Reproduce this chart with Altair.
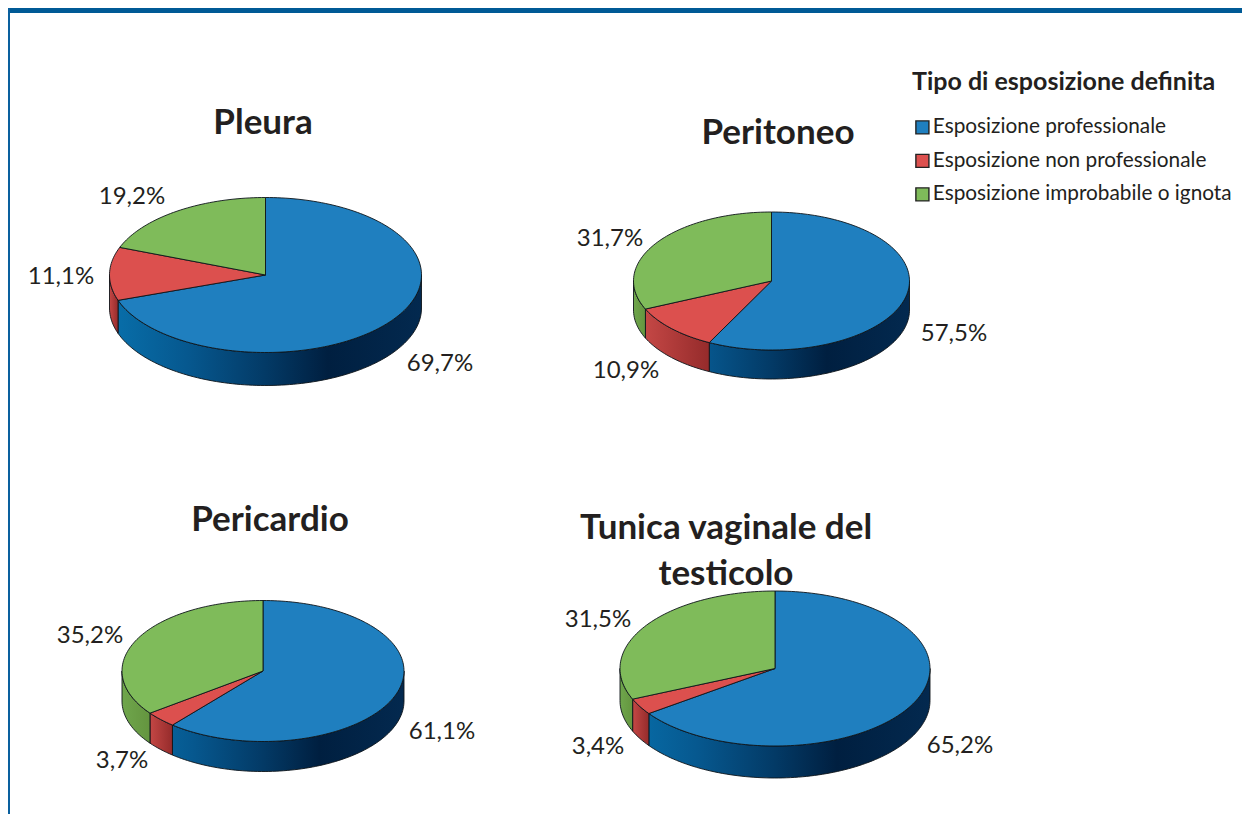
import math
import altair as alt
import pandas as pd

# ---- data
organs = ["Pleura", "Peritoneo", "Pericardio", "Tunica vaginale del testicolo"]
categories = ["Esposizione professionale", "Esposizione non professionale", "Esposizione improbabile o ignota"]
professional = [69.7, 57.5, 61.1, 65.2]
non_professional = [11.1, 10.9, 3.7, 3.4]
unlikely = [19.2, 31.7, 35.2, 31.5]

# ---- layout (chart pixels = page pixels minus the 8px margin)
M = 8
centers = [(265.5, 275), (771.5, 281), (263, 671), (775, 668.5)]
radii = [(156, 77.5), (138, 69), (141, 70.5), (155, 77.5)]
depths = [33, 29, 30, 32]
label_pos = [
    [(440, 371), (61, 284), (132, 204)],
    [(954, 341), (626, 378), (610, 246)],
    [(442, 739), (122, 768), (90, 643)],
    [(960, 753), (598, 754), (598, 627)],
]
title_pos = [("Pleura", 263, 134), ("Peritoneo", 778, 144), ("Pericardio", 270, 531),
             ("Tunica vaginale del", 726, 539), ("testicolo", 726, 585)]

TOP = ["#1f7fbf", "#dc504e", "#7fbb5a"]
# blue wall colours, anchored on position across the full pie width (-1 left .. 1 right)
BLUE_WALL = [(-1.0, "#0870ab"), (-0.5, "#06588f"), (0.0, "#033a66"), (0.4, "#001f40"), (1.0, "#03294f")]
WALL = [
    None,
    [(0, "#c44745"), (1, "#952b2b")],
    [(0, "#6fa64c"), (1, "#64953f")],
]
EDGE = "#0d141a"
FONT = "Lato"


def pt(c, r, a, dy=0):
    t = math.radians(a)
    return [c[0] - M + r[0] * math.sin(t), c[1] - M - r[1] * math.cos(t) + dy]


def arc(c, r, a1, a2, dy=0):
    n = max(2, int(abs(a2 - a1) / 1.5))
    return [pt(c, r, a1 + (a2 - a1) * i / n, dy) for i in range(n + 1)]


def feature(ring, cat):
    ring = ring + [ring[0]]
    return {"type": "Feature", "properties": {"cat": cat},
            "geometry": {"type": "Polygon", "coordinates": [ring]}}


def mix(c1, c2, f):
    a = [int(c1[k:k + 2], 16) for k in (1, 3, 5)]
    b = [int(c2[k:k + 2], 16) for k in (1, 3, 5)]
    return "#%02x%02x%02x" % tuple(round(p + (q - p) * f) for p, q in zip(a, b))


def blue_stops(u0):
    """Stops for a wall that starts at position u0 and runs to the right extreme."""
    out = []
    for (p, c1), (q, c2) in zip(BLUE_WALL, BLUE_WALL[1:]):
        if p <= u0 < q:
            out.append((0, mix(c1, c2, (u0 - p) / (q - p))))
    out += [((p - u0) / (1 - u0), c) for p, c in BLUE_WALL if p > u0]
    return out


proj = alt.Projection(type="identity", scale=1, translate=[0, 0])
layers = []
top_features = []

layers.append(alt.Chart(alt.Data(values=[{"k": 0}])).mark_rect(color="#005a96").encode(
    x=alt.value(0), x2=alt.value(1234), y=alt.value(0), y2=alt.value(5)))
layers.append(alt.Chart(alt.Data(values=[{"k": 0}])).mark_rect(color="#0a609e").encode(
    x=alt.value(0), x2=alt.value(2), y=alt.value(0), y2=alt.value(806)))

for i in range(4):
    c, r, d = centers[i], radii[i], depths[i]
    vals = [professional[i], non_professional[i], unlikely[i]]
    start = 0.0
    for j, v in enumerate(vals):
        a1 = start
        a2 = start + v / sum(vals) * 360
        start = a2
        top_features.append(feature([[c[0] - M, c[1] - M]] + arc(c, r, a1, a2), categories[j]))
        w1, w2 = max(a1, 90), min(a2, 270)
        if w2 > w1:
            ring = arc(c, r, w1, w2) + arc(c, r, w2, w1, d)
            stops = blue_stops(math.sin(math.radians(w2))) if j == 0 else WALL[j]
            layers.append(
                alt.Chart(alt.Data(values=[feature(ring, categories[j])]))
                .mark_geoshape(
                    fill=alt.LinearGradient(
                        gradient="linear", x1=0, x2=1, y1=0, y2=0,
                        stops=[alt.GradientStop(offset=o, color=col) for o, col in stops]),
                    stroke=EDGE, strokeWidth=0.9)
                .project(**proj.to_dict())
            )

layers.append(
    alt.Chart(alt.Data(values=top_features))
    .mark_geoshape(stroke=EDGE, strokeWidth=0.9)
    .encode(color=alt.Color(
        "properties.cat:N",
        scale=alt.Scale(domain=categories, range=TOP),
        legend=alt.Legend(
            title="Tipo di esposizione definita", orient="none",
            legendX=904, legendY=62,
            titleFont=FONT, titleFontSize=25, titleFontWeight="bold", titleColor="#231f20",
            titlePadding=22, titleLimit=400,
            labelFont=FONT, labelFontSize=20.8, labelColor="#231f20", labelLimit=400, labelOffset=0,
            symbolType="square", symbolSize=170, symbolStrokeColor="#222222", symbolStrokeWidth=1.4,
            symbolOpacity=1, rowPadding=11.5)))
    .project(**proj.to_dict())
)

pct = pd.DataFrame([
    {"x": label_pos[i][j][0] - M, "y": label_pos[i][j][1] - M,
     "t": f"{[professional, non_professional, unlikely][j][i]:.1f}%".replace(".", ",")}
    for i in range(4) for j in range(3)
])
layers.append(alt.Chart(pct).mark_text(font=FONT, fontSize=24, color="#231f20", baseline="alphabetic", align="center").encode(
    x=alt.X("x:Q", scale=None, axis=None), y=alt.Y("y:Q", scale=None, axis=None), text="t:N"))

ttl = pd.DataFrame([{"x": x - M, "y": y - M, "t": t} for t, x, y in title_pos])
layers.append(alt.Chart(ttl).mark_text(font=FONT, fontSize=35, fontWeight="bold", color="#231f20", baseline="alphabetic", align="center").encode(
    x=alt.X("x:Q", scale=None, axis=None), y=alt.Y("y:Q", scale=None, axis=None), text="t:N"))

chart = alt.layer(*layers).properties(
    width=1234, height=806, padding=0,
    autosize=alt.AutoSizeParams(type="fit", contains="padding"),
).configure_view(stroke=None)

chart.save("out.html", embed_options={"renderer": "svg", "actions": False})
